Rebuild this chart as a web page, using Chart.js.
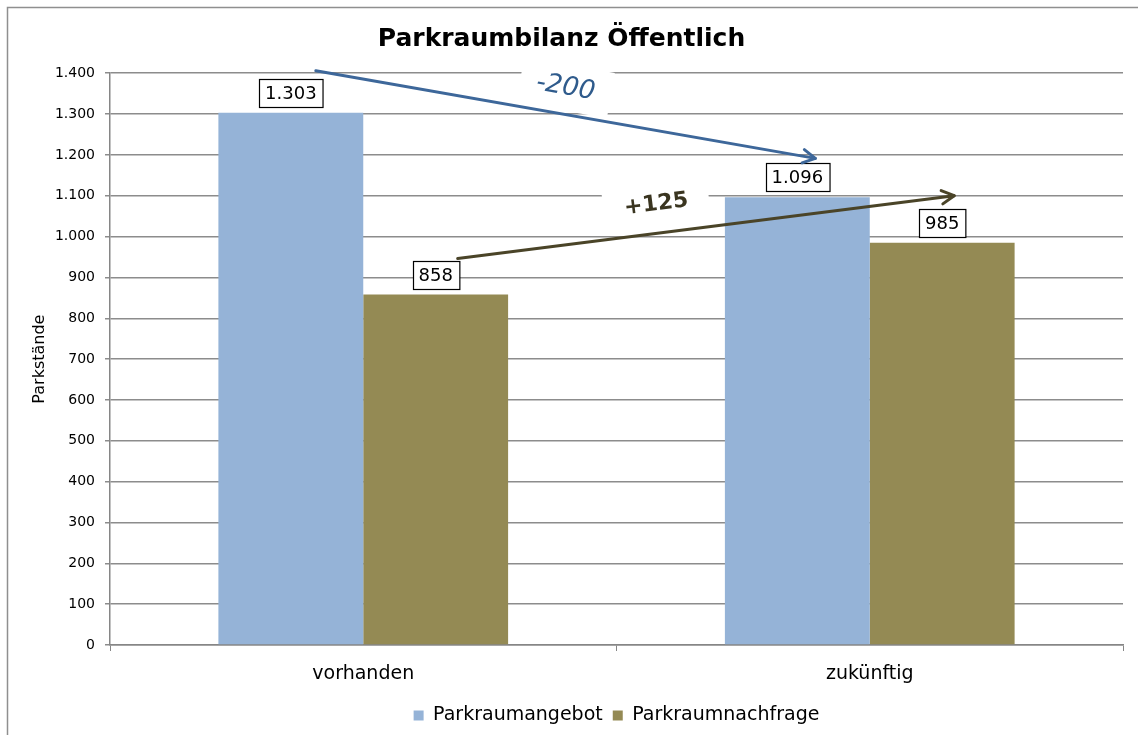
<!DOCTYPE html>
<html>
<head>
<meta charset="utf-8">
<script src="https://cdn.jsdelivr.net/npm/chart.js@4.4.1/dist/chart.umd.min.js"></script>
<style>
  body { margin: 0; background: #fff; }
  #chartContainer { width: 1138px; height: 735px; position: relative; }
</style>
</head>
<body>
<div id="chartContainer"><canvas id="chart"></canvas></div>
<script>
const categories = ['vorhanden', 'zukünftig'];
const seriesNames = ['Parkraumangebot', 'Parkraumnachfrage'];
const angebot = [1303, 1096];
const nachfrage = [858, 985];
const diffLabels = ['-200', '+125'];
const yMin = 0;
const yMax = 1400;
const yStep = 100;

const FONT = '"DejaVu Sans", Verdana, sans-serif';

// 1303 -> "1.303"
function deNum(v) {
  return String(v).replace(/\B(?=(\d{3})+(?!\d))/g, '.');
}

// outer frame like the excel chart area
const framePlugin = {
  id: 'frame',
  beforeDraw(chart) {
    const c = chart.ctx;
    c.save();
    c.strokeStyle = '#8f8f8f';
    c.lineWidth = 1.5;
    c.strokeRect(7.5, 7.5, chart.width + 10, chart.height + 10);
    c.restore();
  }
};

// arrows between the two categories, one per series
const arrowStyle = [
  { color: '#3d679a', text: '#2f5b8c', font: 'italic 26px ' + FONT, start: [25, -42], end: [18, -39], t: 0.5, lift: -27, box: [92, 46] },
  { color: '#4a4428', text: '#3a3520', font: 'bold 22px ' + FONT, start: [22, -36], end: [12, -47], t: 0.4, lift: -29, box: [106, 40] }
];

function arrowGeom(chart, i) {
  const bars = chart.getDatasetMeta(i).data;
  const s = arrowStyle[i];
  const x1 = bars[0].x + s.start[0], y1 = bars[0].y + s.start[1];
  const x2 = bars[1].x + s.end[0], y2 = bars[1].y + s.end[1];
  const ang = Math.atan2(y2 - y1, x2 - x1);
  const tx = x1 + (x2 - x1) * s.t;
  const ty = y1 + (y2 - y1) * s.t + s.lift;
  return { x1, y1, x2, y2, ang, tx, ty };
}

const annotPlugin = {
  id: 'annot',
  beforeDatasetsDraw(chart) {
    // white patches behind the diff texts (they cut the gridlines)
    const c = chart.ctx;
    c.save();
    c.fillStyle = '#fff';
    diffLabels.forEach((lbl, i) => {
      const g = arrowGeom(chart, i);
      const b = arrowStyle[i].box;
      c.save();
      c.translate(g.tx, g.ty);
      c.rotate(g.ang);
      c.fillRect(-b[0] / 2, -b[1] / 2, b[0], b[1]);
      c.restore();
    });
    c.restore();
  },
  afterDatasetsDraw(chart) {
    const c = chart.ctx;
    c.save();
    // value boxes
    c.font = '18px ' + FONT;
    c.textAlign = 'center';
    c.textBaseline = 'middle';
    chart.data.datasets.forEach((ds, i) => {
      chart.getDatasetMeta(i).data.forEach((bar, j) => {
        const txt = deNum(ds.data[j]);
        const w = c.measureText(txt).width + 12;
        const h = 28;
        const bx = Math.round(bar.x - w / 2) + 0.5;
        const by = Math.round(bar.y - 6 - h) + 0.5;
        c.fillStyle = '#fff';
        c.fillRect(bx, by, w, h);
        c.strokeStyle = '#000';
        c.lineWidth = 1.2;
        c.strokeRect(bx, by, w, h);
        c.fillStyle = '#000';
        c.fillText(txt, bar.x, by + h / 2 + 1);
      });
    });

    // arrows + labels
    diffLabels.forEach((lbl, i) => {
      const g = arrowGeom(chart, i);
      const s = arrowStyle[i];
      c.strokeStyle = s.color;
      c.lineWidth = 3;
      c.lineCap = 'round';
      c.lineJoin = 'round';
      c.beginPath();
      c.moveTo(g.x1, g.y1);
      c.lineTo(g.x2, g.y2);
      c.stroke();
      const hl = 14, ha = 0.5;
      c.beginPath();
      c.moveTo(g.x2 - hl * Math.cos(g.ang - ha), g.y2 - hl * Math.sin(g.ang - ha));
      c.lineTo(g.x2, g.y2);
      c.lineTo(g.x2 - hl * Math.cos(g.ang + ha), g.y2 - hl * Math.sin(g.ang + ha));
      c.stroke();

      c.save();
      c.translate(g.tx, g.ty);
      c.rotate(g.ang);
      c.font = s.font;
      c.fillStyle = s.text;
      c.textAlign = 'center';
      c.textBaseline = 'middle';
      c.fillText(lbl, 0, 0);
      c.restore();
    });
    c.restore();
  }
};

const ctx = document.querySelector('#chart');

const parkChart = new Chart(ctx, {
  type: 'bar',
  data: {
    labels: categories,
    datasets: [{
      label: seriesNames[0],
      data: angebot,
      backgroundColor: '#95b3d7',
      borderWidth: 0
    }, {
      label: seriesNames[1],
      data: nachfrage,
      backgroundColor: '#948a54',
      borderWidth: 0
    }]
  },
  options: {
    responsive: true,
    maintainAspectRatio: false,
    animation: false,
    layout: { padding: { left: 0, right: 15, top: 0, bottom: 0 } },
    datasets: {
      bar: { barPercentage: 1, categoryPercentage: 0.572 }
    },
    plugins: {
      title: {
        display: true,
        text: 'Parkraumbilanz Öffentlich',
        color: '#000',
        font: { family: FONT, size: 25, weight: 'bold' },
        padding: { top: 24, bottom: 19.2 }
      },
      legend: {
        position: 'bottom',
        fullSize: false,
        labels: {
          color: '#000',
          font: { family: FONT, size: 19 },
          boxWidth: 10,
          boxHeight: 10,
          padding: 10
        }
      },
      tooltip: { enabled: false }
    },
    scales: {
      x: {
        afterFit(scale) { scale.height = 51; },
        grid: {
          offset: true,
          drawOnChartArea: false,
          drawTicks: true,
          tickLength: 6,
          color: '#868686'
        },
        border: { color: '#868686', width: 1.5 },
        ticks: {
          color: '#000',
          font: { family: FONT, size: 19 },
          padding: 12
        }
      },
      y: {
        min: yMin,
        max: yMax,
        afterFit(scale) { scale.width = 110; },
        title: {
          display: true,
          text: 'Parkstände',
          color: '#000',
          font: { family: FONT, size: 16 },
          padding: { top: 30, bottom: 0 }
        },
        grid: {
          color: '#8c8c8c',
          lineWidth: 1.5,
          tickLength: 5
        },
        border: { color: '#868686', width: 1.5 },
        ticks: {
          stepSize: yStep,
          padding: 10,
          color: '#000',
          font: { family: FONT, size: 14 },
          callback: (v) => deNum(v)
        }
      }
    }
  },
  plugins: [framePlugin, annotPlugin]
});
</script>
</body>
</html>
